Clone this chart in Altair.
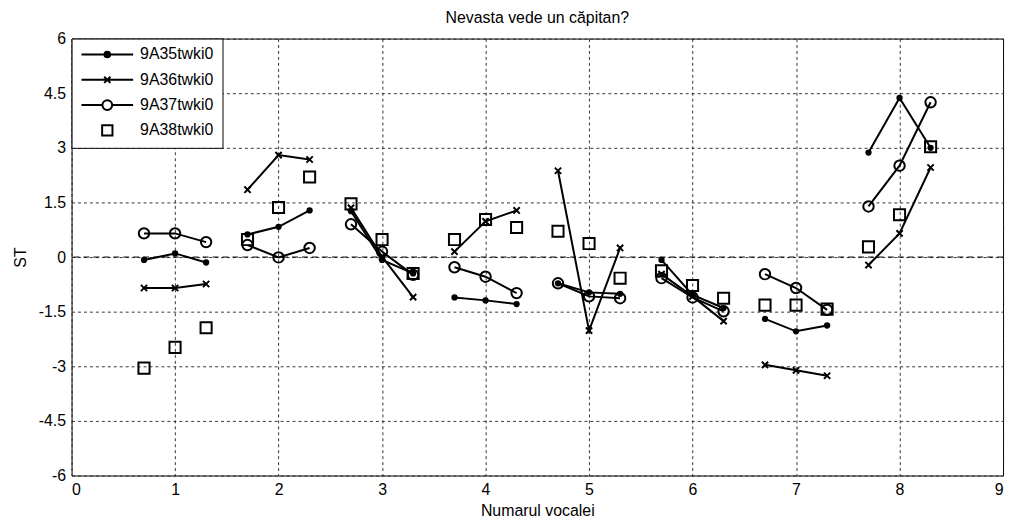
import altair as alt
import pandas as pd

# ---- data ----
vowels = [1, 2, 3, 4, 5, 6, 7, 8]
offsets = [-0.3, 0.0, 0.3]
series_names = ["9A35twki0", "9A36twki0", "9A37twki0", "9A38twki0"]

s35 = [-0.08, 0.10, -0.15, 0.62, 0.83, 1.28, 1.26, -0.08, -0.45, -1.11, -1.19, -1.29,
       -0.72, -0.97, -1.01, -0.08, -1.04, -1.40, -1.70, -2.04, -1.88, 2.87, 4.37, 3.00]
s36 = [-0.85, -0.85, -0.74, 1.85, 2.80, 2.68, 1.35, 0.01, -1.10, 0.15, 0.98, 1.28,
       2.37, -2.02, 0.25, -0.47, -1.08, -1.76, -2.96, -3.11, -3.26, -0.22, 0.65, 2.46]
s37 = [0.65, 0.65, 0.41, 0.33, -0.01, 0.25, 0.90, 0.15, -0.49, -0.28, -0.54, -0.99,
       -0.72, -1.08, -1.13, -0.58, -1.11, -1.49, -0.47, -0.85, -1.45, 1.39, 2.51, 4.25]
s38 = [-3.05, -2.48, -1.94, 0.48, 1.36, 2.20, 1.46, 0.48, -0.45, 0.48, 1.03, 0.81,
       0.71, 0.37, -0.58, -0.38, -0.78, -1.13, -1.32, -1.32, -1.43, 0.28, 1.16, 3.03]

x_ticks = [0, 1, 2, 3, 4, 5, 6, 7, 8, 9]
y_ticks = [-6, -4.5, -3, -1.5, 0, 1.5, 3, 4.5, 6]

rows = []
for name, vals in zip(series_names, [s35, s36, s37, s38]):
    i = 0
    for v in vowels:
        for o in offsets:
            rows.append({"series": name, "group": v, "x": round(v + o, 2), "y": vals[i]})
            i += 1
df = pd.DataFrame(rows)

FONT = "Liberation Sans"
X = alt.X("x:Q", scale=alt.Scale(domain=[0, 9], nice=False, zero=False),
          axis=alt.Axis(values=x_ticks, title="Numarul vocalei", labelExpr="'' + datum.value"))
Y = alt.Y("y:Q", scale=alt.Scale(domain=[-6, 6], nice=False, zero=False),
          axis=alt.Axis(values=y_ticks, title="ST", labelExpr="'' + datum.value"))

xpath = "M-1,-1L1,1M-1,1L1,-1"

zero_line = alt.Chart(pd.DataFrame({"y": [0]})).mark_rule(
    color="black", strokeDash=[6, 4], strokeWidth=1
).encode(y=alt.Y("y:Q", scale=alt.Scale(domain=[-6, 6], nice=False)))

lines = alt.Chart(df[df.series != "9A38twki0"]).mark_line(
    color="black", strokeWidth=2
).encode(x=X, y=Y, detail=[alt.Detail("series:N"), alt.Detail("group:O")])

def pts(name, **kw):
    return alt.Chart(df[df.series == name]).mark_point(color="black", opacity=1, **kw).encode(x=X, y=Y)

p35 = pts("9A35twki0", shape="circle", filled=True, size=40)
p36 = pts("9A36twki0", shape=xpath, filled=False, size=40, strokeWidth=2)
p37 = pts("9A37twki0", shape="circle", filled=False, size=110, strokeWidth=2)
p38 = pts("9A38twki0", shape="square", filled=False, size=125, strokeWidth=2)

leg_paths = [
    "M-1,0H1M-0.11,0a0.11,0.11 0 1,0 0.22,0a0.11,0.11 0 1,0 -0.22,0",
    "M-1,0H1M-0.12,-0.12L0.12,0.12M-0.12,0.12L0.12,-0.12",
    "M-1,0H-0.19M0.19,0H1M-0.19,0a0.19,0.19 0 1,0 0.38,0a0.19,0.19 0 1,0 -0.38,0",
    "M-0.2,-0.2H0.2V0.2H-0.2Z",
]
leg_fill = ["black", "white", "white", "white"]
leg_stroke = ["black", "black", "black", "black"]

legend_layer = alt.Chart(df).transform_filter("false").mark_point(
    filled=True, strokeWidth=2, opacity=1
).encode(
    x=X, y=Y,
    shape=alt.Shape("series:N", scale=alt.Scale(domain=series_names, range=leg_paths),
                    legend=alt.Legend(title=None, orient="top-left", offset=0,
                                      fillColor="white", strokeColor="black",
                                      padding=9, symbolSize=2704, symbolStrokeWidth=2,
                                      symbolStrokeColor="black", symbolOpacity=1,
                                      clipHeight=14, rowPadding=9.5,
                                      labelFont=FONT, labelFontSize=16, labelColor="black",
                                      labelOffset=6, cornerRadius=0)),
    fill=alt.Fill("series:N", scale=alt.Scale(domain=series_names, range=leg_fill), legend=None),
    stroke=alt.Stroke("series:N", scale=alt.Scale(domain=series_names, range=leg_stroke), legend=None),
)

chart = alt.layer(zero_line, lines, p35, p36, p37, p38, legend_layer).properties(
    width=938, height=440,
    autosize=alt.AutoSizeParams(type="none"),
    padding={"left": 64, "top": 29, "right": 6, "bottom": 44},
    title=alt.TitleParams("Nevasta vede un căpitan?", font=FONT, fontSize=16,
                          fontWeight="normal", color="black", anchor="middle", offset=5),
).configure_view(stroke="black", strokeWidth=1).configure_axis(
    labelFont=FONT, labelFontSize=16, labelColor="black",
    titleFont=FONT, titleFontSize=16, titleFontWeight="normal", titleColor="black",
    domain=False, ticks=False, grid=True, gridColor="#222", gridDash=[3, 3],
    gridWidth=1, gridOpacity=0.9,
).configure_axisX(labelPadding=6, titlePadding=5).configure_axisY(
    labelPadding=6, titlePadding=10
)

chart.save("out.html", embed_options={"renderer": "svg", "actions": False})
